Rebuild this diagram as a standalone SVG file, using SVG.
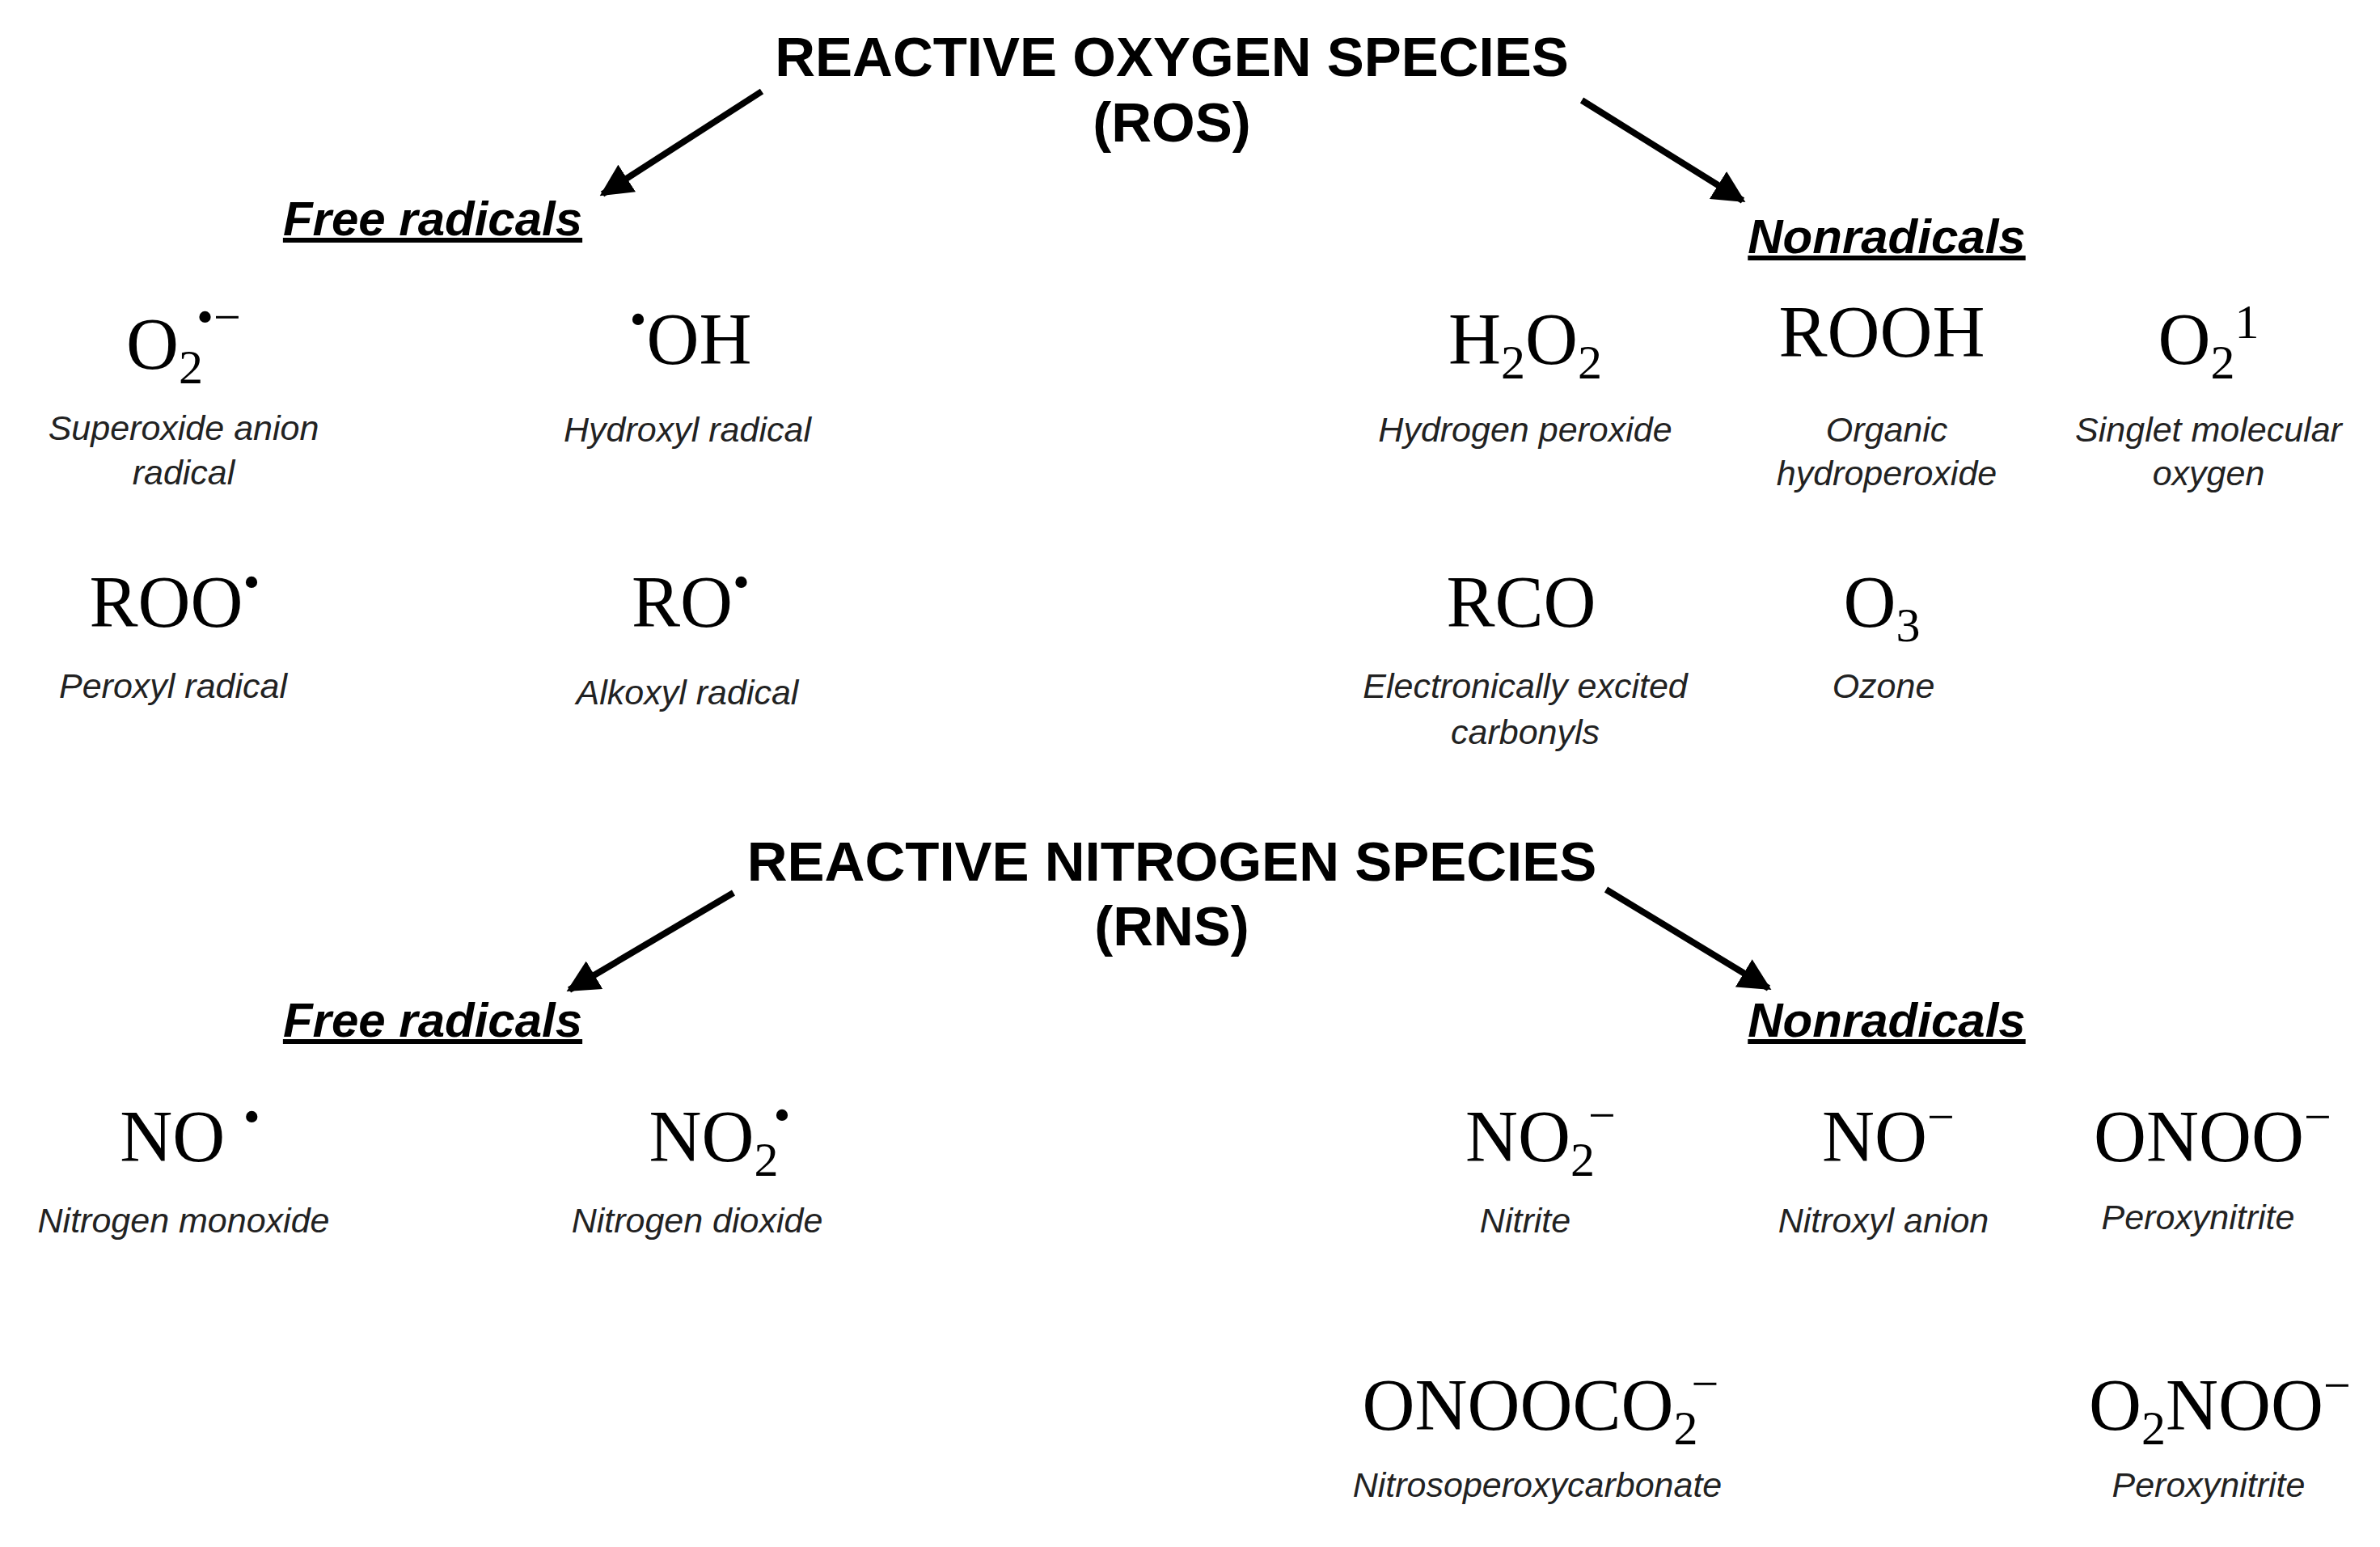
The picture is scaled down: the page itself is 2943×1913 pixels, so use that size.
<svg xmlns="http://www.w3.org/2000/svg" width="2943" height="1913" viewBox="0 0 2943 1913">
<defs>
<marker id="ah" viewBox="0 0 10 10" refX="9" refY="5" markerWidth="5" markerHeight="5" orient="auto" markerUnits="strokeWidth"><path d="M0,0 L10,5 L0,10 z" fill="#000"/></marker>
<style>
.t{font-family:"Liberation Sans",Arial,sans-serif;font-weight:bold;font-size:69px;text-anchor:middle;fill:#000}
.h{font-family:"Liberation Sans",Arial,sans-serif;font-weight:bold;font-style:italic;font-size:60px;text-anchor:middle;text-decoration:underline;fill:#000}
.f{font-family:"Liberation Serif","Times New Roman",serif;font-size:90px;text-anchor:middle;fill:#000}
.l{font-family:"Liberation Sans",Arial,sans-serif;font-style:italic;font-size:43px;text-anchor:middle;fill:#222}
.s{font-size:60px}
.c{stroke:#000;stroke-width:8;fill:none;marker-end:url(#ah)}
</style>
</defs>
<rect width="2943" height="1913" fill="#fff"/>
<g id="connectors">
<line class="c" x1="942" y1="113" x2="745" y2="240"/>
<line class="c" x1="1956" y1="124" x2="2155" y2="248"/>
<line class="c" x1="907" y1="1104" x2="704" y2="1224"/>
<line class="c" x1="1986" y1="1100" x2="2187" y2="1222"/>
</g>
<g id="ros"><text class="t" x="1449" y="94">REACTIVE OXYGEN SPECIES</text><text class="t" x="1449" y="175">(ROS)</text></g>
<g id="ros-free"><text class="h" x="535" y="291">Free radicals</text></g>
<g id="ros-non"><text class="h" x="2333" y="313">Nonradicals</text></g>
<g id="superoxide"><text class="f" x="227" y="456">O<tspan class="s" dy="18">2</tspan><tspan class="s" dx="-8" dy="-62">•−</tspan></text><text class="l" x="227" y="544">Superoxide anion</text><text class="l" x="227" y="599">radical</text></g>
<g id="hydroxyl"><text class="f" x="854" y="450"><tspan class="s" dy="-35">•</tspan><tspan dy="35">OH</tspan></text><text class="l" x="850" y="546">Hydroxyl radical</text></g>
<g id="h2o2"><text class="f" x="1886" y="450">H<tspan class="s" dy="18">2</tspan><tspan dy="-18">O</tspan><tspan class="s" dy="18">2</tspan></text><text class="l" x="1886" y="546">Hydrogen peroxide</text></g>
<g id="rooh"><text class="f" x="2327" y="441">ROOH</text><text class="l" x="2333" y="546">Organic</text><text class="l" x="2333" y="600">hydroperoxide</text></g>
<g id="singlet"><text class="f" x="2731" y="450">O<tspan class="s" dy="18">2</tspan><tspan class="s" dy="-50">1</tspan></text><text class="l" x="2731" y="546">Singlet molecular</text><text class="l" x="2731" y="600">oxygen</text></g>
<g id="peroxyl"><text class="f" x="216" y="775">ROO<tspan class="s" dy="-35">•</tspan></text><text class="l" x="214" y="863">Peroxyl radical</text></g>
<g id="alkoxyl"><text class="f" x="854" y="775">RO<tspan class="s" dy="-35">•</tspan></text><text class="l" x="850" y="871">Alkoxyl radical</text></g>
<g id="rco"><text class="f" x="1881" y="775">RCO</text><text class="l" x="1886" y="863">Electronically excited</text><text class="l" x="1886" y="920">carbonyls</text></g>
<g id="ozone"><text class="f" x="2327" y="775">O<tspan class="s" dy="18">3</tspan></text><text class="l" x="2329" y="863">Ozone</text></g>
<g id="rns"><text class="t" x="1449" y="1089">REACTIVE NITROGEN SPECIES</text><text class="t" x="1449" y="1169">(RNS)</text></g>
<g id="rns-free"><text class="h" x="535" y="1282">Free radicals</text></g>
<g id="rns-non"><text class="h" x="2333" y="1282">Nonradicals</text></g>
<g id="no"><text class="f" x="235" y="1436">NO <tspan class="s" dy="-35">•</tspan></text><text class="l" x="227" y="1524">Nitrogen monoxide</text></g>
<g id="no2"><text class="f" x="890" y="1436">NO<tspan class="s" dy="18">2</tspan><tspan class="s" dx="-6" dy="-55">•</tspan></text><text class="l" x="862" y="1524">Nitrogen dioxide</text></g>
<g id="nitrite"><text class="f" x="1905" y="1436">NO<tspan class="s" dy="18">2</tspan><tspan class="s" dx="-8" dy="-55">−</tspan></text><text class="l" x="1886" y="1524">Nitrite</text></g>
<g id="nitroxyl"><text class="f" x="2335" y="1436">NO<tspan class="s" dy="-35">−</tspan></text><text class="l" x="2329" y="1524">Nitroxyl anion</text></g>
<g id="onoo"><text class="f" x="2736" y="1436">ONOO<tspan class="s" dy="-35">−</tspan></text><text class="l" x="2718" y="1520">Peroxynitrite</text></g>
<g id="onoococ2"><text class="f" x="1905" y="1768">ONOOCO<tspan class="s" dy="18">2</tspan><tspan class="s" dx="-8" dy="-55">−</tspan></text><text class="l" x="1901" y="1851">Nitrosoperoxycarbonate</text></g>
<g id="o2noo"><text class="f" x="2745" y="1768">O<tspan class="s" dy="18">2</tspan><tspan dy="-18">NOO</tspan><tspan class="s" dy="-35">−</tspan></text><text class="l" x="2731" y="1851">Peroxynitrite</text></g>
</svg>
